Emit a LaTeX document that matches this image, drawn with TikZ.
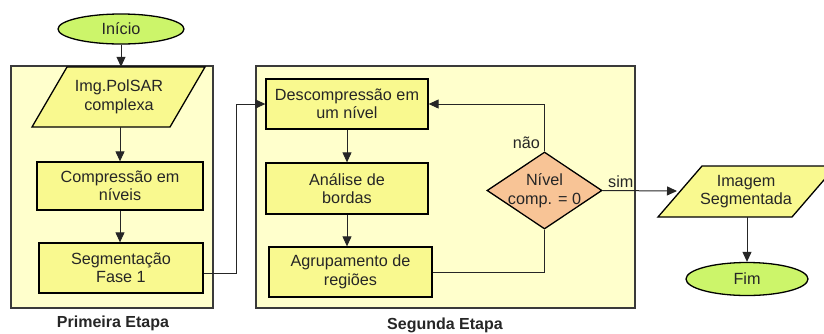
\documentclass[tikz,border=0pt]{standalone}
\usepackage{fontspec}
\setmainfont{Liberation Sans}
\usetikzlibrary{shapes.geometric,arrows.meta}
\definecolor{stagefill}{HTML}{FFFFCC}
\definecolor{boxfill}{HTML}{F9F98F}
\definecolor{termfill}{HTML}{CCF56A}
\definecolor{decfill}{HTML}{F8C496}
\definecolor{stageline}{HTML}{3A3A3A}
\tikzset{
  txt/.style={font=\fontsize{16.2}{18.5}\selectfont, align=center, text=black!85},
  stagebox/.style={draw=stageline, line width=1.6pt, fill=stagefill, inner sep=0pt},
  procbox/.style={txt, draw=black, line width=1.3pt, fill=boxfill, inner sep=0pt},
  termnode/.style={txt, ellipse, draw=black, line width=1.3pt, fill=termfill, inner sep=0pt},
  ioshape/.style={draw=black, line width=1.3pt, fill=boxfill, line join=miter},
  iotext/.style={txt, inner sep=0pt},
  decnode/.style={txt, diamond, draw=black, line width=1.3pt, fill=decfill, inner sep=-4pt, aspect=1.5},
  conn/.style={draw=black!85, line width=1pt},
  arr/.style={conn, -{Triangle[length=10pt,width=9pt]}},
  steplabel/.style={font=\fontsize{16}{18}\selectfont\bfseries, text=black!85},
  lbl/.style={font=\fontsize{16.2}{18}\selectfont, text=black!85}
}
\begin{document}
\begin{tikzpicture}[x=1pt,y=-1pt]
\useasboundingbox (0,0) rectangle (824,333);
% stages
\node[stagebox, minimum width=202pt, minimum height=242pt] (stage1) at (112,187) {};
\node[stagebox, minimum width=379pt, minimum height=242pt] (stage2) at (445.5,187) {};
\node[steplabel] (lab1) at (113,323) {Primeira Etapa};
\node[steplabel] (lab2) at (445,325) {Segunda Etapa};
% parallelogram outlines
\draw[ioshape] (67,67) -- (205,67) -- (170,127) -- (32,127) -- cycle;
\draw[ioshape] (702,166) -- (836,166) -- (792,217) -- (658,217) -- cycle;
% nodes
\node[termnode, minimum width=126pt, minimum height=30pt] (inicio) at (121,29) {Início};
\node[iotext, minimum width=100pt, minimum height=60pt] (img) at (119,97) {Img.PolSAR\\complexa};
\node[procbox, minimum width=166pt, minimum height=48pt] (comp) at (120,186) {Compressão em\\níveis};
\node[procbox, minimum width=164pt, minimum height=50pt] (seg) at (121,268) {Segmentação\\Fase 1};
\node[procbox, minimum width=162pt, minimum height=50pt] (desc) at (347,104) {Descompressão em\\um nível};
\node[procbox, minimum width=162pt, minimum height=51pt] (anal) at (347,188.5) {Análise de\\bordas};
\node[procbox, minimum width=163pt, minimum height=50pt] (agrup) at (350.5,272) {Agrupamento de\\regiões};
\node[decnode, minimum width=115pt, minimum height=77pt] (dec) at (544.5,190.5) {Nível\\comp. = 0};
\node[iotext, minimum width=100pt, minimum height=51pt] (out) at (746,191.5) {Imagem\\Segmentada};
\coordinate (outin) at (677,191);
\node[termnode, minimum width=122pt, minimum height=33pt] (fim) at (747,279) {Fim};
% connectors
\coordinate (bend) at (236,273);
\draw[arr] (inicio.south) -- (inicio.south |- img.north);
\draw[arr] (comp.north |- img.south) -- (comp.north);
\draw[arr] (comp.south) -- (comp.south |- seg.north);
\draw[arr] (seg.east |- bend) -- (bend) |- (desc.west);
\draw[arr] (desc.south) -- (desc.south |- anal.north);
\draw[arr] (anal.south) -- (anal.south |- agrup.north);
\draw[conn] (agrup.east) -| (dec.south);
\draw[arr] (dec.north) |- (desc.east);
\draw[arr] (dec.east) -- (outin);
\draw[arr] (out.south -| fim.north) -- (fim.north);
\node[lbl, anchor=south east] (nao) at ([xshift=-1pt,yshift=-1pt]dec.north) {não};
\node[lbl, anchor=south west] (sim) at ([xshift=2pt,yshift=-1pt]dec.east) {sim};
\end{tikzpicture}
\end{document}
